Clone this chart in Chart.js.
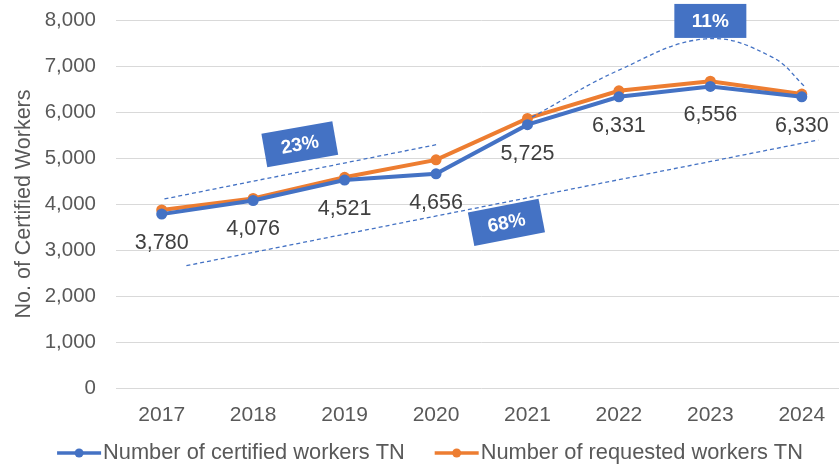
<!DOCTYPE html>
<html>
<head>
<meta charset="utf-8">
<script src="https://cdn.jsdelivr.net/npm/chart.js@4.4.1/dist/chart.umd.min.js"></script>
<style>
  html, body { margin: 0; padding: 0; background: #fff; }
  #wrap { width: 839px; height: 467px; overflow: hidden; }
</style>
</head>
<body>
<div id="wrap"><canvas id="myChart" width="853" height="467"></canvas></div>
<script>
'use strict';

// chart data
let years = ['2017', '2018', '2019', '2020', '2021', '2022', '2023', '2024'];
let certified = [3780, 4076, 4521, 4656, 5725, 6331, 6556, 6330];
let requested = [3870, 4120, 4580, 4960, 5860, 6460, 6670, 6390];
let yTicks = [0, 1000, 2000, 3000, 4000, 5000, 6000, 7000, 8000];
let seriesNames = ['Number of certified workers TN', 'Number of requested workers TN'];

// dashed trend marks, in data units (x = category index)
let trend23 = [{x: 0.03, y: 4110}, {x: 3.03, y: 5300}];
let trend68 = [{x: 0.27, y: 2660}, {x: 7.18, y: 5390}];
let trend11 = [{x: 4.05, y: 5890}, {x: 5.0, y: 6910}, {x: 5.95, y: 7590}, {x: 6.67, y: 7200}, {x: 7.05, y: 6520}];

let badgeText = ['23%', '68%', '11%'];
let badgeAt = [{x: 1.51, y: 5300, angle: -10}, {x: 3.77, y: 3600, angle: -11}, {x: 6.0, y: 7980, angle: 0}];

let blue = '#4472C4';
let orange = '#ED7D31';
let grey = '#595959';
let fontName = '"Liberation Sans", Arial, sans-serif';

let valueLabels = {
  id: 'valueLabels',
  afterDatasetsDraw(chart){
    let ctx = chart.ctx;
    let meta = chart.getDatasetMeta(0);
    ctx.save();
    ctx.font = '21.5px ' + fontName;
    ctx.fillStyle = '#404040';
    ctx.textAlign = 'center';
    ctx.textBaseline = 'middle';
    meta.data.forEach(function(pt, i){
      ctx.fillText(certified[i].toLocaleString('en-US'), pt.x, pt.y + 29);
    });
    ctx.restore();
  }
};

let badges = {
  id: 'badges',
  afterDatasetsDraw(chart){
    let ctx = chart.ctx;
    let xs = chart.scales.x2;
    let ys = chart.scales.y;
    for (let i = 0; i < badgeText.length; i++){
      let px = xs.getPixelForValue(badgeAt[i].x);
      let py = ys.getPixelForValue(badgeAt[i].y);
      ctx.save();
      ctx.translate(px, py);
      ctx.rotate(badgeAt[i].angle * Math.PI / 180);
      ctx.fillStyle = blue;
      ctx.fillRect(-36, -17, 72, 34);
      ctx.fillStyle = '#ffffff';
      ctx.font = 'bold 19px ' + fontName;
      ctx.textAlign = 'center';
      ctx.textBaseline = 'middle';
      ctx.fillText(badgeText[i], 0, 1);
      ctx.restore();
    }
  }
};

// legend drawn by hand so the gap between the two entries matches
let bottomLegend = {
  id: 'bottomLegend',
  afterDraw(chart){
    let ctx = chart.ctx;
    let colors = [blue, orange];
    let y = 453;
    let gap = 30;
    ctx.save();
    ctx.font = '21.8px ' + fontName;
    ctx.textBaseline = 'middle';
    let widths = seriesNames.map(function(s){ return 44 + 2 + ctx.measureText(s).width; });
    let total = widths[0] + gap + widths[1];
    let x = 430 - total / 2;
    for (let i = 0; i < 2; i++){
      ctx.strokeStyle = colors[i];
      ctx.lineWidth = 3.5;
      ctx.beginPath();
      ctx.moveTo(x, y);
      ctx.lineTo(x + 44, y);
      ctx.stroke();
      ctx.fillStyle = colors[i];
      ctx.beginPath();
      ctx.arc(x + 22, y, 4.5, 0, Math.PI * 2);
      ctx.fill();
      ctx.fillStyle = grey;
      ctx.textAlign = 'left';
      ctx.fillText(seriesNames[i], x + 46, y);
      x += widths[i] + gap;
    }
    ctx.restore();
  }
};

function trendSet(points, tension){
  return {
    label: '',
    data: points,
    xAxisID: 'x2',
    yAxisID: 'y',
    borderColor: blue,
    borderWidth: 1.3,
    borderDash: [4, 3],
    pointRadius: 0,
    fill: false,
    tension: tension
  };
}

let ctx = document.getElementById('myChart').getContext('2d');
let chart = new Chart(ctx, {
  type: 'line',
  data: {
    labels: years,
    datasets: [{
      label: seriesNames[0],
      data: certified,
      borderColor: blue,
      backgroundColor: blue,
      borderWidth: 4,
      pointRadius: 5.5,
      pointBackgroundColor: blue,
      pointBorderWidth: 0,
      order: 1
    }, {
      label: seriesNames[1],
      data: requested,
      borderColor: orange,
      backgroundColor: orange,
      borderWidth: 4,
      pointRadius: 5.5,
      pointBackgroundColor: orange,
      pointBorderWidth: 0,
      order: 2
    },
    trendSet(trend23, 0),
    trendSet(trend68, 0),
    trendSet(trend11, 0.4)
    ]
  },
  options: {
    responsive: false,
    animation: false,
    layout: { padding: { top: 20, left: 0, right: 0, bottom: 42 } },
    scales: {
      x: {
        offset: true,
        grid: { display: false, drawTicks: false },
        border: { display: false },
        ticks: { color: grey, font: { family: fontName, size: 21 }, padding: 15 },
        afterFit(axis){ axis.height = 37; }
      },
      x2: {
        type: 'linear',
        display: false,
        min: -0.5,
        max: 7.5
      },
      y: {
        min: 0,
        max: 8000,
        afterBuildTicks(axis){
          axis.ticks = yTicks.map(function(v){ return {value: v}; });
        },
        afterFit(axis){
          axis.width = 116;
          axis.paddingTop = 0;
          axis.paddingBottom = 0;
        },
        grid: { color: '#d9d9d9', drawTicks: false },
        border: { display: false },
        ticks: {
          color: grey,
          font: { family: fontName, size: 20.5 },
          padding: 20,
          callback: function(v){ return v.toLocaleString('en-US'); }
        },
        title: {
          display: true,
          text: 'No. of Certified Workers',
          color: grey,
          font: { family: fontName, size: 21.5 },
          padding: { top: 11, bottom: 4 }
        }
      }
    },
    plugins: {
      tooltip: { enabled: false },
      legend: { display: false }
    }
  },
  plugins: [valueLabels, badges, bottomLegend]
});
</script>
</body>
</html>
